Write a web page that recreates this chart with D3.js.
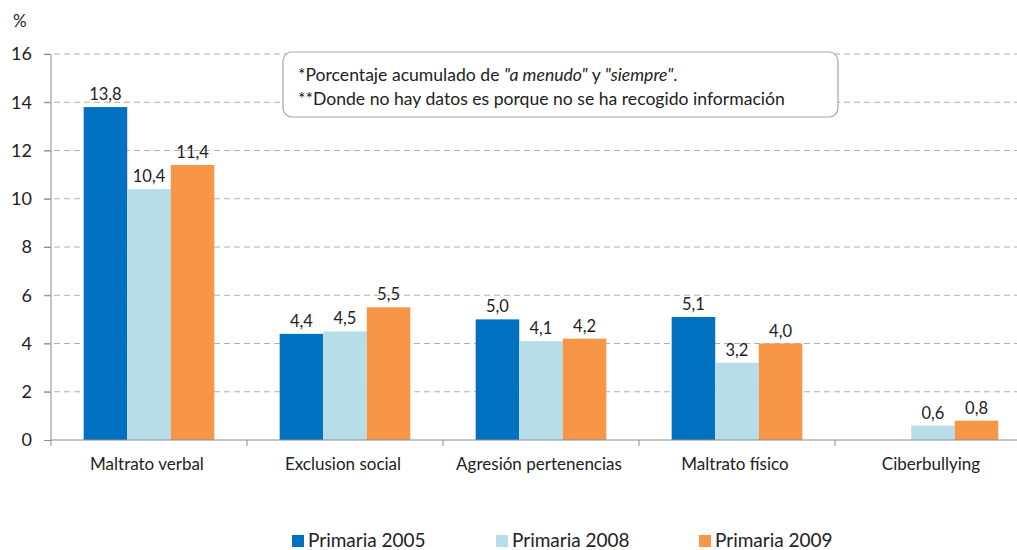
<!DOCTYPE html>
<html>
<head>
<meta charset="utf-8">
<script src="https://cdn.jsdelivr.net/npm/d3@7"></script>
<style>
  body { margin: 0; background: #fff; }
  svg { font-family: Lato, "Open Sans", sans-serif; }
  .grid line { stroke: #b0b0b0; stroke-dasharray: 6,4; }
</style>
</head>
<body>
<div id="chart"></div>
<script>
const categories = ["Maltrato verbal", "Exclusion social", "Agresión pertenencias", "Maltrato físico", "Ciberbullying"];
const seriesNames = ["Primaria 2005", "Primaria 2008", "Primaria 2009"];
const colors = ["#0070C0", "#B7DEE8", "#F79646"];
// null = no data collected
const primaria2005 = [13.8, 4.4, 5.0, 5.1, null];
const primaria2008 = [10.4, 4.5, 4.1, 3.2, 0.6];
const primaria2009 = [11.4, 5.5, 4.2, 4.0, 0.8];
const yTicks = [0, 2, 4, 6, 8, 10, 12, 14, 16];
const noteLines = [
  [{t: "*Porcentaje acumulado de "}, {t: "\"a menudo\"", i: true}, {t: " y "}, {t: "\"siempre\"", i: true}, {t: "."}],
  [{t: "**Donde no hay datos es porque no se ha recogido información"}]
];

const width = 1017, height = 550;
const mLeft = 51, mTop = 54, mBottom = 440, mRight = 1031;

const svg = d3.select("#chart").append("svg")
  .attr("width", width).attr("height", height);

const x0 = d3.scaleBand().domain(categories).range([mLeft, mRight]).paddingInner(0).paddingOuter(0);
const x1 = d3.scaleBand().domain(seriesNames).range([0, x0.bandwidth()]).paddingOuter(0.75).paddingInner(0);
const y = d3.scaleLinear().domain([0, 16]).range([mBottom, mTop]);

// gridlines
svg.append("g").attr("class", "grid")
  .selectAll("line").data(yTicks.filter(d => d > 0)).join("line")
  .attr("x1", mLeft - 7).attr("x2", width)
  .attr("y1", d => y(d)).attr("y2", d => y(d));

// y axis
const yAxis = svg.append("g")
  .attr("transform", `translate(${mLeft},0)`)
  .call(d3.axisLeft(y).tickValues(yTicks).tickSize(7).tickPadding(12).tickFormat(d3.format("d")));
yAxis.select(".domain").attr("stroke", "#8c8c8c").attr("d", `M0,${mBottom + 6}V${mTop}`);
yAxis.selectAll(".tick line").attr("stroke", "#8c8c8c");
yAxis.selectAll(".tick text").attr("font-size", 18).attr("fill", "#222").attr("font-family", "Lato, sans-serif");

svg.append("text").attr("x", 13).attr("y", 27).attr("font-size", 17).attr("fill", "#222").text("%");

// bars
const data = categories.map((c, i) => ({
  cat: c,
  vals: [primaria2005[i], primaria2008[i], primaria2009[i]].map((v, k) => ({ s: seriesNames[k], v, k }))
}));

const groups = svg.append("g").selectAll("g").data(data).join("g")
  .attr("transform", d => `translate(${x0(d.cat)},0)`);

groups.selectAll("rect").data(d => d.vals.filter(e => e.v !== null)).join("rect")
  .attr("x", d => x1(d.s)).attr("width", x1.bandwidth())
  .attr("y", d => y(d.v)).attr("height", d => mBottom - y(d.v))
  .attr("fill", d => colors[d.k]);

groups.selectAll("text.val").data(d => d.vals.filter(e => e.v !== null)).join("text")
  .attr("class", "val")
  .attr("x", d => x1(d.s) + x1.bandwidth() / 2).attr("y", d => y(d.v) - 7)
  .attr("text-anchor", "middle").attr("font-size", 16.5).attr("fill", "#222")
  .text(d => d3.format(".1f")(d.v).replace(".", ","));

// x axis
svg.append("line").attr("x1", mLeft).attr("x2", width).attr("y1", mBottom).attr("y2", mBottom)
  .attr("stroke", "#8c8c8c");
svg.append("g").selectAll("line").data(categories.slice(1)).join("line")
  .attr("x1", d => x0(d)).attr("x2", d => x0(d))
  .attr("y1", mBottom).attr("y2", mBottom + 6).attr("stroke", "#8c8c8c");
svg.append("g").selectAll("text").data(categories).join("text")
  .attr("x", d => x0(d) + x0.bandwidth() / 2 - 2).attr("y", 470)
  .attr("text-anchor", "middle").attr("font-size", 17).attr("fill", "#222")
  .text(d => d);

// note box
svg.append("rect").attr("x", 283).attr("y", 52).attr("width", 555).attr("height", 65)
  .attr("rx", 9).attr("fill", "#fff").attr("stroke", "#a6a6a6").attr("stroke-width", 1.2);
noteLines.forEach((line, i) => {
  const t = svg.append("text").attr("x", 298).attr("y", 81 + i * 24)
    .attr("font-size", 17.6).attr("fill", "#222");
  line.forEach(p => t.append("tspan").attr("font-style", p.i ? "italic" : null).text(p.t));
});

// legend
const legendX = [292, 496, 699];
const leg = svg.append("g").selectAll("g").data(seriesNames).join("g")
  .attr("transform", (d, i) => `translate(${legendX[i]},535)`);
leg.append("rect").attr("width", 12).attr("height", 12).attr("fill", (d, i) => colors[i]);
leg.append("text").attr("x", 16).attr("y", 12).attr("font-size", 19).attr("fill", "#222").text(d => d);
</script>
</body>
</html>
